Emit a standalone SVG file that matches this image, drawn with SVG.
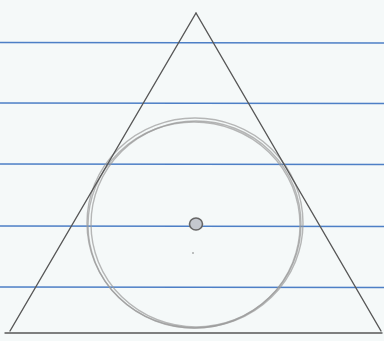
<svg xmlns="http://www.w3.org/2000/svg" width="384" height="341" viewBox="0 0 384 341">
<style>
.rule{stroke:#4d7fc6;stroke-width:1.6;fill:none}
.pen{stroke:#575757;stroke-width:1.4;fill:none;stroke-linecap:round}
.ring{fill:none;stroke:#9a9a9a;stroke-width:1.4;opacity:0.7}
</style>
<rect width="384" height="341" fill="#f5f9f9"/>
<g id="rules">
<line class="rule" x1="0" y1="42.5" x2="384" y2="43"/>
<line class="rule" x1="0" y1="103" x2="384" y2="103.5"/>
<line class="rule" x1="0" y1="164" x2="384" y2="164.5"/>
<line class="rule" x1="0" y1="226" x2="384" y2="226.5"/>
<line class="rule" x1="0" y1="287" x2="384" y2="287.5"/>
</g>
<g id="circle">
<ellipse class="ring" cx="195" cy="223" rx="108" ry="105"/>
<ellipse class="ring" cx="196" cy="224" rx="105" ry="103"/>
<ellipse class="ring" cx="194" cy="225" rx="106" ry="103" opacity="0.45"/>
</g>
<g id="triangle">
<line class="pen" x1="196" y1="13" x2="10" y2="331"/>
<line class="pen" x1="196" y1="13" x2="381" y2="331"/>
<line class="pen" x1="5" y1="333" x2="382" y2="333"/>
</g>
<g id="center">
<ellipse cx="196" cy="224" rx="6.5" ry="6" fill="#c4c8cf" stroke="#666" stroke-width="1.6"/>
<circle cx="193" cy="253" r="0.8" fill="#777"/>
</g>
</svg>
